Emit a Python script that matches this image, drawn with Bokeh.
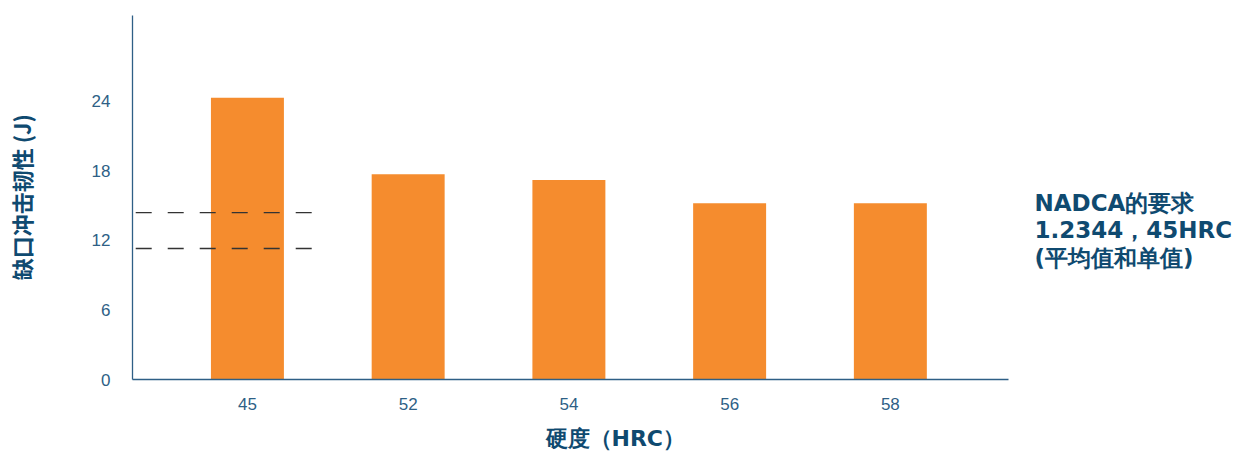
from bokeh.plotting import figure
from bokeh.models import ColumnDataSource, Range1d, FixedTicker, Label, Title
from bokeh.embed import file_html
from bokeh.resources import INLINE

categories = ["45", "52", "54", "56", "58"]
toughness = [24.3, 17.7, 17.2, 15.2, 15.2]
nadca_mean = 14.4
nadca_single = 11.3
y_ticks = [0, 6, 12, 18, 24]

xpos = list(range(len(categories)))
src = ColumnDataSource(dict(x=xpos, top=toughness))

AX = "#2e5f86"
TXT = "#0f4a70"
FONT = "Liberation Sans"
CJK = "Noto Sans CJK SC"
WIDE = "DejaVu Sans"

W, H = 1240, 461
FL, FT, FB = 132, 15, 379  # frame edges in canvas pixels
X0, X1 = -0.715, 4.735      # span of the x axis line
px_per_unit = (1008 - FL) / (X1 - X0)
XEND = X0 + (W - FL) / px_per_unit

p = figure(width=W, height=H, output_backend="svg", toolbar_location=None,
           x_range=Range1d(X0, XEND), y_range=Range1d(0, 31.4),
           min_border_left=FL, min_border_right=0, min_border_top=FT, min_border_bottom=H - FB)
p.outline_line_color = None
p.grid.visible = False
p.background_fill_color = "white"

p.vbar(x="x", top="top", width=0.454, source=src, color="#f58c2e", line_color=None)

# NADCA requirement dashed lines (short, left part)
p.segment(x0=[-0.695, -0.695], x1=[0.40, 0.40], y0=[nadca_mean, nadca_single], y1=[nadca_mean, nadca_single],
          line_color="#333333", line_width=1.3, line_dash="16 16")

p.xaxis.ticker = FixedTicker(ticks=xpos)
p.xaxis.major_label_overrides = {i: c for i, c in enumerate(categories)}
p.xaxis.bounds = (X0, X1)
p.yaxis.ticker = FixedTicker(ticks=y_ticks)
for ax in (p.xaxis, p.yaxis):
    ax.axis_line_color = AX
    ax.axis_line_width = 1.3
    ax.major_tick_line_color = None
    ax.minor_tick_line_color = None
    ax.major_label_text_color = AX
    ax.major_label_text_font = FONT
    ax.major_label_text_font_size = "17px"
p.xaxis.major_label_standoff = 12
p.yaxis.major_label_standoff = 16

p.yaxis.axis_label = "缺口冲击韧性 (J)"
p.yaxis.axis_label_text_font = CJK
p.yaxis.axis_label_text_font_style = "bold"
p.yaxis.axis_label_text_font_size = "22px"
p.yaxis.axis_label_text_color = TXT
p.yaxis.axis_label_standoff = 52

p.add_layout(Title(text="硬度（HRC）", align="left", offset=545 - FL, standoff=22,
                   text_font=WIDE, text_font_style="bold", text_font_size="22px",
                   text_color=TXT), "below")

lines = ["NADCA的要求", "1.2344，45HRC", "(平均值和单值)"]
ys = [202, 229.5, 257]
for t, yy in zip(lines, ys):
    p.add_layout(Label(x=1034 - FL, y=FB - yy, x_units="screen", y_units="screen",
                       text=t, text_font=WIDE, text_font_style="bold", text_font_size="23px",
                       text_color=TXT, text_align="left", text_baseline="middle"))

open("out.html", "w").write(file_html(p, INLINE))
